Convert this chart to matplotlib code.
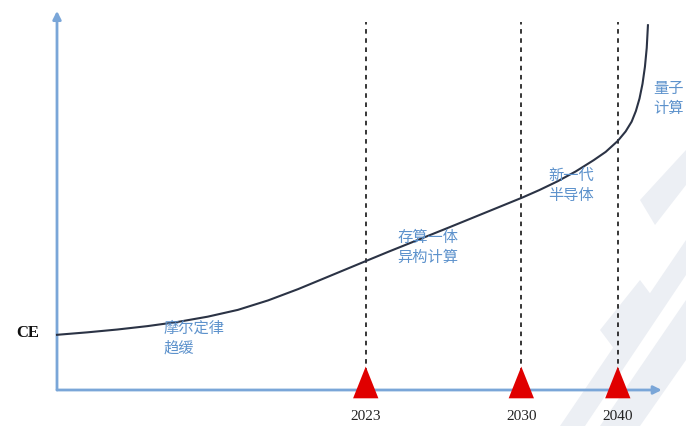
import matplotlib
matplotlib.use("Agg")
import matplotlib.pyplot as plt
from matplotlib.patches import Polygon

# ---- data (arbitrary 0-100 axis units) ----
curve_x = [0, 5, 10, 15, 20, 25, 30, 35, 40, 45, 51.2, 55, 60, 65, 70, 75, 77.3,
           80, 83, 86, 89, 91, 93, 94.3, 95.3, 96.0, 96.6, 97.1, 97.5, 97.8, 98.0]
curve_y = [14.6, 15.25, 16.0, 16.9, 18.0, 19.4, 21.2, 23.7, 26.7, 30.0, 34.1, 36.6,
           39.8, 43.0, 46.25, 49.5, 51.0, 52.9, 55.2, 57.8, 60.8, 63.0, 65.9, 68.4,
           71.0, 73.8, 77.1, 81.0, 85.5, 90.5, 96.5]

year_labels = ["2023", "2030", "2040"]
year_pos = [51.2, 77.0, 93.0]

stage_labels = ["摩尔定律\n趋缓", "存算一体\n异构计算", "新一代\n半导体", "量子\n计算"]
stage_x = [17.6, 56.4, 81.4, 98.9]
stage_y = [18.5, 42.5, 59.0, 82.0]

y_label = "CE"

# ---- figure ----
fig = plt.figure(figsize=(6.86, 4.26), dpi=100)
fig.patch.set_facecolor("white")
ax = fig.add_axes([57 / 686, 36 / 426, 603 / 686, 378 / 426])
ax.set_xlim(0, 100)
ax.set_ylim(0, 100)
ax.axis("off")

# faint watermark bands (background decoration)
wm = fig.add_axes([0, 0, 1, 1], zorder=-1)
wm.set_xlim(0, 686)
wm.set_ylim(426, 0)
wm.axis("off")
wm_color = "#eceff4"
for poly in [
    [(600, 426), (686, 300), (686, 360), (640, 426)],
    [(560, 426), (686, 240), (686, 275), (585, 426)],
    [(640, 200), (686, 150), (686, 185), (655, 225)],
    [(600, 330), (640, 280), (655, 300), (615, 350)],
]:
    wm.add_patch(Polygon(poly, closed=True, facecolor=wm_color, edgecolor="none"))

axis_color = "#7aa6d8"
# axes with arrows
ax.annotate("", xy=(100.3, 0), xytext=(0, 0), xycoords="data",
            arrowprops=dict(arrowstyle="-|>", color=axis_color, lw=2.0,
                            mutation_scale=12, shrinkA=0, shrinkB=0),
            annotation_clip=False)
ax.annotate("", xy=(0, 100.3), xytext=(0, 0), xycoords="data",
            arrowprops=dict(arrowstyle="-|>", color=axis_color, lw=2.0,
                            mutation_scale=12, shrinkA=0, shrinkB=0),
            annotation_clip=False)

# dashed verticals
for xp in year_pos:
    ax.plot([xp, xp], [2, 97.4], color="black", lw=1.1, ls=(0, (3, 3)),
            clip_on=False, zorder=2)

# red triangles
for xp in year_pos:
    ax.add_patch(Polygon([(xp - 2.1, -2.2), (xp + 2.1, -2.2), (xp, 6.2)],
                         closed=True, facecolor="#e00000", edgecolor="none",
                         clip_on=False, zorder=4))

# year labels
for xp, lab in zip(year_pos, year_labels):
    ax.text(xp, -6.9, lab, ha="center", va="center", fontsize=11,
            family="Liberation Serif", color="#222222", clip_on=False)

# curve
ax.plot(curve_x, curve_y, color="#2b3345", lw=1.5, clip_on=False, zorder=3,
        solid_joinstyle="round")

# stage labels
for xs, ys, lab in zip(stage_x, stage_y, stage_labels):
    ax.text(xs, ys, lab, ha="left", va="top", fontsize=11,
            family=["Noto Sans CJK SC", "DejaVu Sans"], color="#5d92cc",
            linespacing=1.2, clip_on=False, zorder=5)

# CE label
ax.text(-4.8, 15.0, y_label, ha="center", va="center", fontsize=12,
        fontweight="bold", family="Liberation Serif", color="#111111",
        clip_on=False)

fig.savefig("out.png", dpi=100)
